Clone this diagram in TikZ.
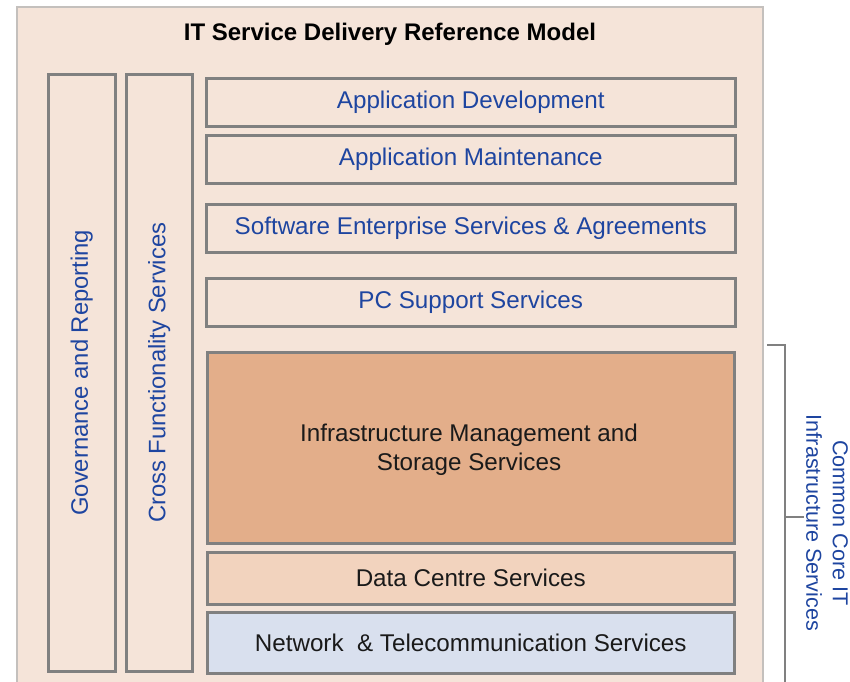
\documentclass[tikz,border=0pt]{standalone}
\usepackage{fontspec}
\setmainfont{Liberation Sans}
\definecolor{bgpeach}{HTML}{F5E4D9}
\definecolor{infra}{HTML}{E3AE8A}
\definecolor{datac}{HTML}{F2D3BE}
\definecolor{netw}{HTML}{D9E0EE}
\definecolor{boxline}{HTML}{808080}
\definecolor{frameline}{HTML}{C4C0BD}
\definecolor{bluetxt}{HTML}{1E45A0}
\definecolor{darktxt}{HTML}{1A1A1A}
\tikzset{
  svc/.style={draw=boxline, line width=2.5pt, rectangle, anchor=north west,
    inner sep=0pt, align=center, font=\fontsize{24.2}{29}\selectfont},
  bluetext/.style={text=bluetxt},
  blacktext/.style={text=darktxt},
}
\begin{document}
\begin{tikzpicture}[x=1pt,y=-1pt]
\useasboundingbox (0,0) rectangle (850,681);
% background panel
\fill[bgpeach] (17,7) rectangle (763,690);
\draw[frameline, line width=1.2pt] (17,690) -- (17,7) -- (763,7) -- (763,690);
\node[font=\bfseries\fontsize{24}{29}\selectfont] (title) at (390,34) {IT Service Delivery Reference Model};

% vertical columns
\node[svc, minimum width=67pt, minimum height=597pt] (gov) at (47,73) {};
\node[bluetext, rotate=90, font=\fontsize{23.8}{29}\selectfont] (govt) at (gov.center) {Governance and Reporting};
\node[svc, minimum width=66pt, minimum height=597pt] (cross) at (125,73) {};
\node[bluetext, rotate=90, font=\fontsize{23.8}{29}\selectfont] (crosst) at (cross.center) {Cross Functionality Services};

% service stack
\node[svc, bluetext, minimum width=529pt, minimum height=48pt] (appdev) at (205,77) {Application Development};
\node[svc, bluetext, minimum width=529pt, minimum height=48pt] (appmnt) at (205,134) {Application Maintenance};
\node[svc, bluetext, minimum width=529pt, minimum height=48pt] (soft) at (205,203) {Software Enterprise Services \& Agreements};
\node[svc, bluetext, minimum width=529pt, minimum height=48pt] (pc) at (205,277) {PC Support Services};
\node[svc, fill=infra, minimum width=527pt, minimum height=191pt] (infra) at (206,351) {};
\node[blacktext, align=center, font=\fontsize{24.2}{29}\selectfont, anchor=north] (infrat) at (469,420) {Infrastructure Management and\\Storage Services};
\node[svc, blacktext, fill=datac, minimum width=527pt, minimum height=52pt] (dc) at (206,551) {Data Centre Services};
\node[svc, blacktext, fill=netw, minimum width=527pt, minimum height=61pt] (net) at (206,611) {Network\ \ \& Telecommunication Services};

% bracket for the shared infrastructure layers
\coordinate (brtop) at (767,345);
\coordinate (brcorner) at (785,345);
\coordinate (brbottom) at (785,690);
\coordinate (brmid) at (785,517);
\node[bluetext, rotate=-90, align=center, font=\fontsize{21.6}{26.5}\selectfont] (core) at (827,523) {Common Core IT\\Infrastructure Services};
\draw[boxline, line width=1.3pt] (brtop) -- (brcorner) -- (brbottom);
\draw[boxline, line width=1.3pt] (brmid) -- (804,517);
\end{tikzpicture}
\end{document}
